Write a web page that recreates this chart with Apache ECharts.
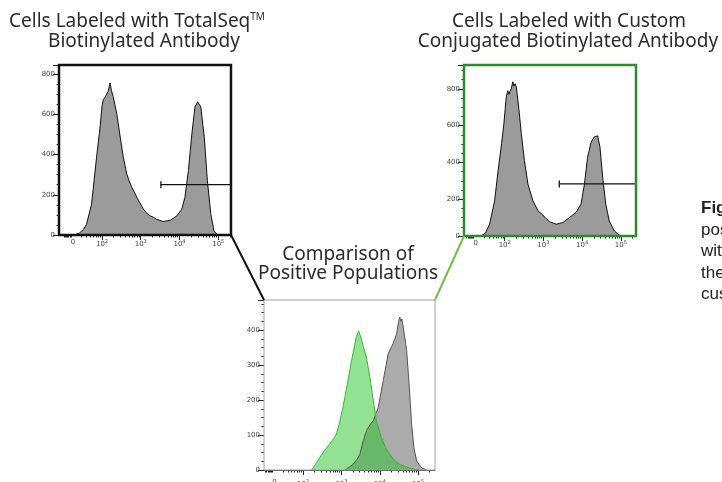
<!DOCTYPE html>
<html>
<head>
<meta charset="utf-8">
<script src="https://cdn.jsdelivr.net/npm/echarts@6/dist/echarts.min.js"></script>
<style>
html,body{margin:0;padding:0;background:#fff;}
#main{width:722px;height:482px;}
</style>
</head>
<body>
<div id="main"></div>
<script>
// x values are in decades of the logicle axis (2 = 10^2 ...), y values are event counts
var histTotalSeq = [[1.28,0],[1.42,10],[1.52,28],[1.60,53],[1.73,153],[1.86,387],[1.95,537],[2.00,640],[2.03,670],[2.08,685],[2.12,700],[2.16,715],[2.19,740],[2.21,755],[2.24,720],[2.29,687],[2.38,603],[2.47,487],[2.55,387],[2.64,303],[2.70,270],[2.77,237],[2.90,187],[3.07,128],[3.15,110],[3.24,95],[3.33,88],[3.41,78],[3.58,67],[3.76,73],[3.93,95],[4.06,128],[4.14,187],[4.23,320],[4.32,503],[4.40,637],[4.47,662],[4.55,637],[4.64,487],[4.72,270],[4.81,103],[4.89,20],[4.96,5],[5.02,0]];
var histCustom = [[1.38,0],[1.50,15],[1.61,64],[1.74,191],[1.83,355],[1.92,502],[1.98,611],[2.04,756],[2.08,790],[2.11,770],[2.13,784],[2.17,800],[2.21,839],[2.24,815],[2.27,828],[2.30,811],[2.37,684],[2.43,556],[2.51,410],[2.60,283],[2.73,191],[2.86,137],[2.98,115],[3.07,95],[3.16,78],[3.33,64],[3.50,73],[3.67,100],[3.84,128],[3.97,173],[4.06,283],[4.14,428],[4.23,510],[4.31,538],[4.40,545],[4.46,483],[4.53,319],[4.61,173],[4.70,82],[4.83,27],[4.96,5],[5.03,0]];
var posCustom = [[2.22,0],[2.32,15],[2.43,35],[2.55,55],[2.69,74],[2.80,90],[2.87,103],[2.95,135],[3.04,179],[3.17,256],[3.30,333],[3.39,381],[3.45,398],[3.49,402],[3.53,370],[3.57,352],[3.65,323],[3.74,266],[3.83,199],[3.91,141],[4.04,93],[4.17,60],[4.35,31],[4.52,16],[4.78,5],[5.04,0]];
var posTotalSeq = [[3.09,0],[3.20,8],[3.30,16],[3.40,30],[3.48,45],[3.56,80],[3.65,112],[3.75,130],[3.83,141],[3.96,179],[4.09,256],[4.22,333],[4.35,362],[4.44,390],[4.49,425],[4.52,437],[4.55,425],[4.57,432],[4.59,424],[4.63,420],[4.70,342],[4.77,237],[4.83,131],[4.89,64],[4.96,26],[5.09,6],[5.22,0]];
// positive gates: start decade, drawn at count level
var gateTotalSeq = [3.52, 250];
var gateCustom = [3.41, 283];

var xTickPos = [1.25, 2, 3, 4, 5];
var xTickText = ['0', '10{s|2}', '10{s|3}', '10{s|4}', '10{s|5}'];

// layout of the three panels
var boxes = [
    {left:59, top:65, width:172, height:170, xMin:0.89, xMax:5.33, yMax:845, yStep:200, border:'#111', bw:2.5, lm:4},
    {left:464, top:65, width:172, height:171, xMin:0.95, xMax:5.39, yMax:930, yStep:200, border:'#2f8a2f', bw:2.5, lm:4},
    {left:264, top:300, width:171, height:170, xMin:0.98, xMax:5.44, yMax:486, yStep:100, border:'#a0a0a0', bw:1, lm:9}
];

var xMinor = [];
[1.02,1.05,1.08,1.11,1.14,1.17,1.20].forEach(function(v){ xMinor.push(v); });
for (var d = 1; d <= 5; d++) {
    for (var k = 2; k <= 9; k++) {
        if (d === 1 && k < 3) continue;
        xMinor.push(d + Math.log10(k));
    }
}

function labelFmt(v){
    for (var i = 0; i < xTickPos.length; i++) {
        if (Math.abs(xTickPos[i] - v) < 0.01) return xTickText[i];
    }
    return '';
}

var grids = [], xAxes = [], yAxes = [], graphics = [];
boxes.forEach(function(b, i){
    grids.push({left:b.left, top:b.top, width:b.width, height:b.height, containLabel:false, outerBoundsMode:'none'});
    xAxes.push({
        gridIndex:i, type:'value', min:b.xMin, max:b.xMax, position:'bottom',
        axisLine:{show:i === 2, lineStyle:{color:'#444', width:1}},
        splitLine:{show:false},
        axisTick:{show:true, customValues:[2,3,4,5], length:5, lineStyle:{color:'#222', width:1}},
        axisLabel:{customValues:xTickPos, formatter:labelFmt, fontSize:7, color:'#444', margin:b.lm,
            fontFamily:'DejaVu Sans',
            rich:{s:{fontSize:5, color:'#444', verticalAlign:'top', padding:[0,0,5,0]}}}
    });
    xAxes.push({
        gridIndex:i, type:'value', min:b.xMin, max:b.xMax, position:'bottom',
        axisLine:{show:false}, splitLine:{show:false}, axisLabel:{show:false},
        axisTick:{show:true, customValues:xMinor, length:2.5, lineStyle:{color:'#222', width:1}}
    });
    yAxes.push({
        gridIndex:i, type:'value', min:0, max:b.yMax, interval:b.yStep,
        axisLine:{show:false}, splitLine:{show:false},
        axisTick:{show:true, length:6, lineStyle:{color:'#222'}},
        minorTick:{show:true, splitNumber:4, length:2.5, lineStyle:{color:'#222'}},
        axisLabel:{fontSize:7, color:'#444', margin:4, showMaxLabel:false, fontFamily:'DejaVu Sans'}
    });
    graphics.push({
        type:'rect', z:100, silent:true,
        shape:{x:b.left, y:b.top, width:b.width, height:b.height},
        style:{fill:'none', stroke:b.border, lineWidth:b.bw}
    });
});

// connectors from the two upper panels to the comparison panel
graphics.push({type:'line', z:100, shape:{x1:boxes[0].left + boxes[0].width, y1:boxes[0].top + boxes[0].height,
    x2:boxes[2].left, y2:boxes[2].top}, style:{stroke:'#111', lineWidth:2}});
graphics.push({type:'line', z:100, shape:{x1:boxes[1].left, y1:boxes[1].top + boxes[1].height,
    x2:boxes[2].left + boxes[2].width, y2:boxes[2].top}, style:{stroke:'#6cc04a', lineWidth:2}});

function titleText(x, y, txt){
    return {type:'text', z:100, x:x, y:y, style:{text:txt, fill:'#2b2b2b', font:'19px "Noto Sans"',
        align:'center', verticalAlign:'middle',
        rich:{tm:{fontSize:10, fontFamily:'Noto Sans', fill:'#2b2b2b', verticalAlign:'top', padding:[0,0,6,0]}}}};
}
graphics.push(titleText(137, 22, 'Cells Labeled with TotalSeq{tm|TM}'));
graphics.push(titleText(144, 42, 'Biotinylated Antibody'));
graphics.push(titleText(569, 22, 'Cells Labeled with Custom'));
graphics.push(titleText(568, 42, 'Conjugated Biotinylated Antibody'));
graphics.push(titleText(348, 255, 'Comparison of'));
graphics.push(titleText(348, 274, 'Positive Populations'));

// caption on the right, cut off by the page edge
var caption = ['positive', 'with', 'the', 'custom'];
graphics.push({type:'text', x:701, y:208, style:{text:'Figure 3.', fill:'#222', font:'bold 17px "Liberation Sans"', verticalAlign:'middle'}});
caption.forEach(function(t, i){
    graphics.push({type:'text', x:701, y:230 + i * 21.5, style:{text:t, fill:'#222', font:'17px "Liberation Sans"', verticalAlign:'middle'}});
});

function histSeries(idx, data, line, fill){
    return {type:'line', xAxisIndex:idx * 2, yAxisIndex:idx, data:data, showSymbol:false, smooth:false,
        lineStyle:{color:line, width:1}, areaStyle:{color:fill, opacity:1}};
}
function gateSeries(idx, gate){
    return {type:'line', xAxisIndex:idx * 2, yAxisIndex:idx, z:5,
        data:[{value:[gate[0], gate[1]], symbol:'rect', symbolSize:[1.3, 7]},
              {value:[boxes[idx].xMax, gate[1]], symbol:'none'}],
        showSymbol:true, itemStyle:{color:'#111'}, lineStyle:{color:'#111', width:1.3}};
}

var option = {
    animation:false,
    backgroundColor:'#fff',
    grid:grids,
    xAxis:xAxes,
    yAxis:yAxes,
    series:[
        histSeries(0, histTotalSeq, '#111', '#9b9b9b'),
        gateSeries(0, gateTotalSeq),
        histSeries(1, histCustom, '#111', '#9b9b9b'),
        gateSeries(1, gateCustom),
        histSeries(2, posTotalSeq, '#555', '#ababab'),
        histSeries(2, posCustom, '#35b835', 'rgba(40,195,40,0.5)')
    ],
    graphic:graphics
};

var myChart = echarts.init(document.getElementById('main'));
myChart.setOption(option);
</script>
</body>
</html>
